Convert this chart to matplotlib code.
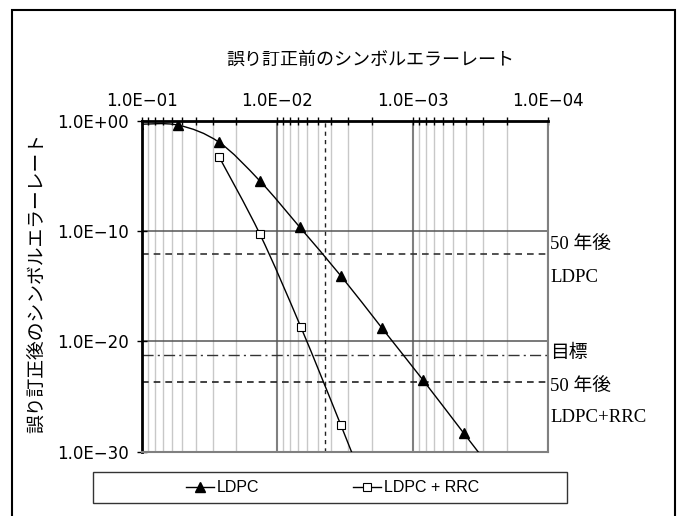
import numpy as np
import matplotlib
matplotlib.use("Agg")
import matplotlib.pyplot as plt
from matplotlib.path import Path
from matplotlib.patches import PathPatch, Rectangle
from matplotlib.lines import Line2D
from matplotlib.ticker import FixedLocator, LogLocator, NullFormatter, NullLocator

plt.rcParams['font.family'] = ['DejaVu Sans', 'Noto Sans CJK JP']

# symbol error rate before correction (x) / after correction (y)
ldpc_in = [1.07e-1, 5.37e-2, 2.69e-2, 1.34e-2, 6.8e-3, 3.36e-3, 1.68e-3, 8.4e-4, 4.2e-4, 2.1e-4]
ldpc_out = [0.5, 0.42, 1.2e-2, 3.6e-6, 2.3e-10, 8.0e-15, 1.6e-19, 3.3e-24, 5.0e-29, 8.0e-34]
rrc_in = [2.69e-2, 1.34e-2, 6.7e-3, 3.38e-3, 1.68e-3]
rrc_out = [5.9e-4, 5.4e-11, 2.2e-19, 2.5e-28, 1.0e-37]

# reference levels
life50_ldpc = 7.9e-13
target = 5.4e-22
life50_rrc = 2.1e-24
ser_limit = 4.4e-3

x_ticks = [1e-1, 1e-2, 1e-3, 1e-4]
x_labels = ['1.0E\u221201', '1.0E\u221202', '1.0E\u221203', '1.0E\u221204']
y_ticks = [1e0, 1e-10, 1e-20, 1e-30]
y_labels = ['1.0E+00', '1.0E\u221210', '1.0E\u221220', '1.0E\u221230']


def smooth_path(xs, ys):
    # excel-like smoothed line: bezier through the points, in log space
    pts = np.column_stack([np.log10(xs), np.log10(ys)])
    n = len(pts)
    verts = [pts[0]]
    codes = [Path.MOVETO]
    for i in range(n - 1):
        p0 = pts[max(i - 1, 0)]
        p1, p2 = pts[i], pts[i + 1]
        p3 = pts[min(i + 2, n - 1)]
        verts += [p1 + (p2 - p0) / 6, p2 - (p3 - p1) / 6, p2]
        codes += [Path.CURVE4] * 3
    return Path(10 ** np.array(verts), codes)


W, H = 680, 516
fig = plt.figure(figsize=(6.8, 5.16), dpi=100)
ax = fig.add_axes([141.7 / W, 1 - 451.7 / H, (548 - 141.7) / W, (451.7 - 121) / H])
ax.set_xscale('log')
ax.set_yscale('log')

ax.add_patch(PathPatch(smooth_path(ldpc_in, ldpc_out), fill=False, lw=1, ec='k', zorder=3))
ax.add_patch(PathPatch(smooth_path(rrc_in, rrc_out), fill=False, lw=1, ec='k', zorder=3))
ax.plot(ldpc_in, ldpc_out, ls='none', marker='^', ms=7.5, color='k', zorder=4)
ax.plot(rrc_in, rrc_out, ls='none', marker='s', ms=6, mfc='white', mec='k', mew=0.8, zorder=4)

ax.axhline(life50_ldpc, color='#333333', lw=1.2, ls=(0, (4, 3)), zorder=2)
ax.axhline(target, color='#333333', lw=1.0, ls=(0, (8, 3, 1.5, 3)), zorder=2)
ax.axhline(life50_rrc, color='#222222', lw=1.2, ls=(0, (4, 3)), zorder=2)
ax.axvline(ser_limit, color='#222222', lw=1.0, ls=(0, (3, 3)), zorder=2)

ax.set_xlim(1e-1, 1e-4)
ax.set_ylim(1e-30, 1e0)

ax.xaxis.tick_top()
ax.xaxis.set_major_locator(FixedLocator(x_ticks))
ax.set_xticklabels(x_labels)
ax.xaxis.set_minor_locator(LogLocator(base=10, subs=np.arange(2, 10)))
ax.xaxis.set_minor_formatter(NullFormatter())
ax.yaxis.set_major_locator(FixedLocator(y_ticks))
ax.set_yticklabels(y_labels)
ax.yaxis.set_minor_locator(NullLocator())
ax.tick_params(axis='x', which='both', direction='inout', length=6, width=1,
               top=True, bottom=False, labelsize=12, pad=5)
ax.tick_params(axis='y', which='major', direction='inout', length=7, width=1,
               labelsize=12, pad=6)

ax.grid(which='minor', axis='x', color='#c8c8c8', lw=1)
ax.grid(which='major', axis='x', color='#808080', lw=1.5)
ax.grid(which='major', axis='y', color='#555555', lw=1.1)
ax.set_axisbelow(True)

for s in ['top', 'left']:
    ax.spines[s].set_color('k')
    ax.spines[s].set_linewidth(2)
for s in ['bottom', 'right']:
    ax.spines[s].set_color('#808080')
    ax.spines[s].set_linewidth(1.5)

jp = ['Noto Sans CJK JP']
fig.text(370 / W, 1 - 60 / H, '誤り訂正前のシンボルエラーレート', family=jp, fontsize=13,
         ha='center', va='center')
fig.text(38 / W, 1 - 283 / H, '誤り訂正後のシンボルエラーレート', family=jp, fontsize=13.5,
         ha='center', va='center', rotation=90)

serif = ['Liberation Serif', 'Noto Sans CJK JP']
for txt, py in [('50 年後', 245), ('LDPC', 277), ('目標', 353), ('50 年後', 386), ('LDPC+RRC', 418)]:
    fig.text(550 / W, 1 - py / H, txt, family=serif, fontsize=13.5, ha='left', va='center')

# legend box
fig.add_artist(Rectangle((93.3 / W, 1 - 503.3 / H), 474 / W, 31.6 / H, transform=fig.transFigure,
                         fill=False, ec='#333333', lw=1))
handles = [Line2D([], [], color='k', lw=1, marker='^', ms=7),
           Line2D([], [], color='k', lw=1, marker='s', ms=6, mfc='white', mew=0.8)]
fig.legend(handles, ['LDPC', 'LDPC + RRC'], loc='center', bbox_to_anchor=(332.5 / W, 1 - 488 / H),
           ncol=2, frameon=False, handlelength=1.75, handletextpad=0.15, columnspacing=5.9,
           prop={'family': 'Liberation Sans', 'size': 11.5})

# outer chart border
fig.add_artist(Rectangle((11.7 / W, -0.01), (675 - 11.7) / W, 1.01 - 9.5 / H, transform=fig.transFigure,
                         fill=False, ec='k', lw=1.5))

fig.savefig('out.png', dpi=100)
